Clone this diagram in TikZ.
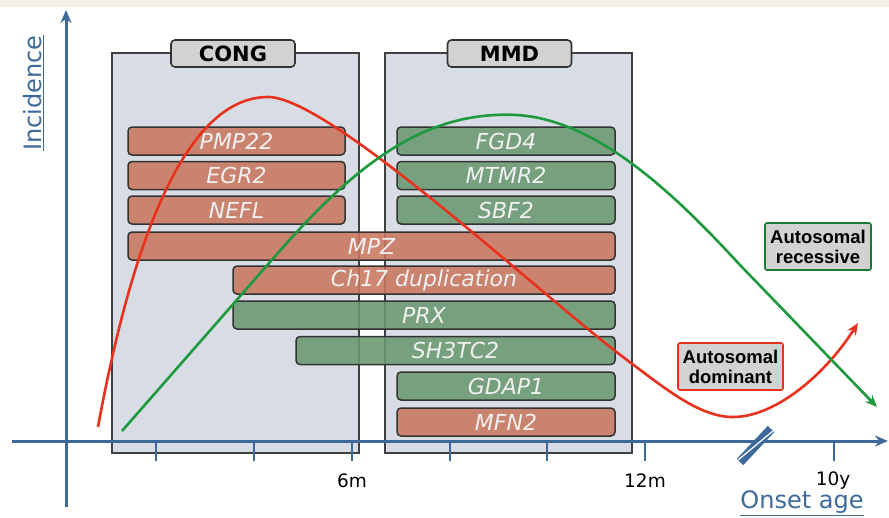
\documentclass[tikz,border=0pt]{standalone}
\usepackage{fontspec}
\setmainfont{DejaVu Sans}
\newfontfamily\helv{Liberation Sans}
\usetikzlibrary{arrows.meta}
\definecolor{axisblue}{HTML}{3D6A9B}
\definecolor{cream}{HTML}{F4F1E4}
\definecolor{boxfill}{HTML}{D8DCE4}
\definecolor{redbarc}{HTML}{C9775E}
\definecolor{greenbarc}{HTML}{6A9870}
\definecolor{redline}{HTML}{E8321E}
\definecolor{greenline}{HTML}{1E9A3E}
\definecolor{tagfill}{HTML}{D2D2D2}
\tikzset{
  group/.style={draw=black!75, line width=2pt, fill=boxfill},
  grouptag/.style={draw=black!80, line width=1.6pt, fill=tagfill, rounded corners=4pt, minimum width=124pt, minimum height=27pt, inner sep=0pt, font=\bfseries\fontsize{21}{21}\selectfont},
  bar/.style={draw=black!80, line width=1.5pt, rounded corners=4pt, minimum height=28pt, inner sep=0pt, fill opacity=0.88, text opacity=1, text=white!94!black, font=\itshape\fontsize{22}{22}\selectfont},
  redbar/.style={bar, fill=redbarc},
  greenbar/.style={bar, fill=greenbarc},
  axisline/.style={draw=axisblue, line width=3pt},
  tick/.style={draw=axisblue, line width=2.4pt},
  ticklabel/.style={font=\fontsize{18.5}{18.5}\selectfont, text=black},
  axislabel/.style={font=\fontsize{24}{24}\selectfont, text=axisblue},
  legendbox/.style={fill=tagfill, line width=1.6pt, rounded corners=2pt, inner sep=2pt, align=center, font=\helv\bfseries\fontsize{18.5}{20}\selectfont},
  curve/.style={line width=2.6pt, -{Stealth[length=12pt,width=10pt]}}
}
\begin{document}
\begin{tikzpicture}[x=1pt,y=-1pt]
\path[use as bounding box, fill=white] (0,0) rectangle (889,517);
\fill[cream] (0,0) rectangle (889,7);

% group boxes
\draw[group] (112,53) rectangle (359,453);
\draw[group] (385,53) rectangle (632,453);

% axes
\draw[axisline, -{Stealth[length=13pt,width=11pt]}] (66,507) -- (66,10);
\draw[axisline, -{Stealth[length=13pt,width=11pt]}] (12,441) -- (888,441);
\foreach \t in {156,254,352,450,547,645,834} \draw[tick] (\t,441) -- (\t,461);
\draw[axisblue, line width=9pt] (740,462) -- (771,429);
\draw[white, line width=1.2pt] (738,460) -- (773,431);

\node[ticklabel] (l6m) at (352,481) {6m};
\node[ticklabel] (l12m) at (645,481) {12m};
\node[ticklabel] (l10y) at (833,481) {10y};
\node[axislabel] (xlab) at (802,503) {\underline{Onset age}};
\node[axislabel, rotate=90] (ylab) at (34,93) {\underline{Incidence}};

% tags
\node[grouptag] (cong) at (233,53.5) {CONG};
\node[grouptag] (mmd) at (509.5,53.5) {MMD};

% bars
\node[redbar, minimum width=217pt] (pmp) at (236.5,141) {PMP22};
\node[redbar, minimum width=217pt] (egr) at (236.5,175.5) {EGR2};
\node[redbar, minimum width=217pt] (nefl) at (236.5,210) {NEFL};
\node[greenbar, minimum width=218pt] (fgd) at (506,141) {FGD4};
\node[greenbar, minimum width=218pt] (mtmr) at (506,175.5) {MTMR2};
\node[greenbar, minimum width=218pt] (sbf) at (506,210) {SBF2};
\node[redbar, minimum width=487pt] (mpz) at (371.5,246) {MPZ};
\node[redbar, minimum width=382pt] (ch17) at (424,280) {Ch17 duplication};
\node[greenbar, minimum width=382pt] (prx) at (424,315) {PRX};
\node[greenbar, minimum width=319pt] (sh3) at (455.5,350.5) {SH3TC2};
\node[greenbar, minimum width=218pt] (gdap) at (506,386) {GDAP1};
\node[redbar, minimum width=218pt] (mfn) at (506,422) {MFN2};

% curves
\draw[curve, redline] (98,427) .. controls (125,280) and (175,97) .. (268,97)
  .. controls (330,97) and (540,295) .. (627,360)
  .. controls (667,390) and (700,417) .. (733,417)
  .. controls (775,417) and (825,375) .. (858,323);
\draw[curve, greenline] (122,431) -- (270,262)
  .. controls (350,170) and (420,110) .. (517,115)
  .. controls (600,120) and (680,200) .. (740,265)
  -- (877,407);

% legends
\node[legendbox, draw=greenline!80!black, minimum width=106pt, minimum height=47pt] (rec) at (818,246.5) {Autosomal\\recessive};
\node[legendbox, draw=redline, minimum width=105pt, minimum height=47pt] (dom) at (730.5,366.5) {Autosomal\\dominant};
\end{tikzpicture}
\end{document}
